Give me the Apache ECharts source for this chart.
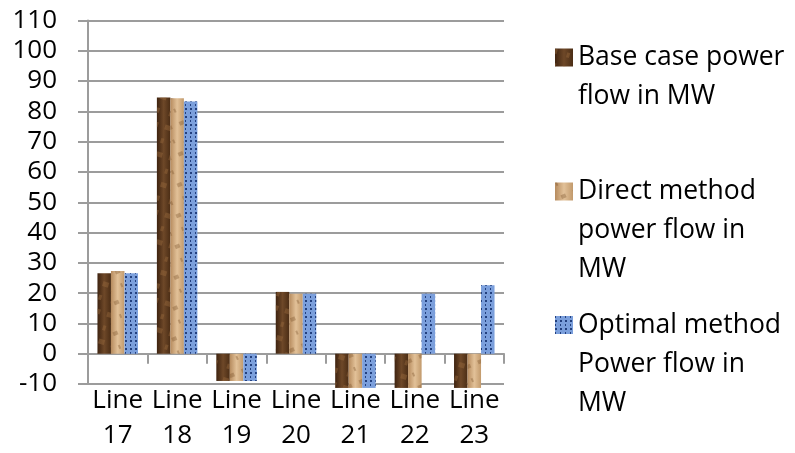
<!DOCTYPE html>
<html>
<head>
<meta charset="utf-8">
<script src="https://cdn.jsdelivr.net/npm/echarts@6/dist/echarts.min.js"></script>
<style>
  html, body { margin: 0; padding: 0; background: #fff; }
  #chart { width: 795px; height: 453px; }
</style>
</head>
<body>
<div id="chart"></div>
<script>
var categories = ['Line\n17', 'Line\n18', 'Line\n19', 'Line\n20', 'Line\n21', 'Line\n22', 'Line\n23'];
var baseCase = [26.6, 84.6, -9, 20.4, -11.3, -11.3, -11.3];
var directMethod = [27.3, 84.3, -9, 19.8, -11.3, -11.3, -11.3];
var optimalMethod = [26.6, 83.3, -9, 19.8, -11.3, 19.8, 22.6];
var seriesNames = ['Base case power\nflow in MW', 'Direct method\npower flow in\nMW', 'Optimal method\nPower flow in\nMW'];

var font = 'Open Sans';
var gray = '#9c9c9c';

var chart = echarts.init(document.getElementById('chart'));

// one legend per item; blank lines on top keep the icon on the first text line
function legendFor(name, top) {
  var lines = name.split('\n').length;
  var pad = '';
  for (var i = 1; i < lines; i++) pad += ' \n';
  return {
    data: [name],
    orient: 'vertical',
    left: 555,
    top: top,
    padding: 0,
    icon: 'rect',
    itemWidth: 18,
    itemHeight: 18,
    itemGap: 0,
    formatter: function (n) { return pad + n; },
    textStyle: {
      fontFamily: font,
      fontSize: 26.5,
      color: '#000',
      lineHeight: 39
    },
    selectedMode: false
  };
}

chart.setOption({
  animation: false,
  grid: { left: 88, right: 291, top: 20.5, bottom: 63.5 },
  legend: [
    legendFor(seriesNames[0], -1),
    legendFor(seriesNames[1], 94),
    legendFor(seriesNames[2], 227.5)
  ],
  xAxis: [
    {
      type: 'category',
      data: categories,
      position: 'bottom',
      axisLine: { onZero: true, lineStyle: { color: gray, width: 2 } },
      axisTick: { show: true, length: 10, lineStyle: { color: gray, width: 2 } },
      axisLabel: { show: false }
    },
    {
      type: 'category',
      data: categories,
      position: 'bottom',
      axisLine: { show: false, onZero: false },
      axisTick: { show: false },
      axisLabel: {
        show: true,
        interval: 0,
        margin: -1,
        fontFamily: font,
        fontSize: 26,
        lineHeight: 35,
        color: '#000'
      }
    }
  ],
  yAxis: {
    type: 'value',
    min: -10,
    max: 110,
    interval: 10,
    axisLine: { show: true, lineStyle: { color: gray, width: 2 } },
    axisTick: { show: true, length: 10, lineStyle: { color: gray, width: 2 } },
    axisLabel: { margin: 31, fontFamily: font, fontSize: 26, color: '#000' },
    splitLine: { lineStyle: { color: gray, width: 2 } }
  },
  series: [
    {
      name: seriesNames[0],
      type: 'bar',
      data: baseCase,
      barWidth: 13.5,
      barGap: '0%',
      clip: false,
      itemStyle: {
        color: new echarts.graphic.LinearGradient(0, 0, 1, 0, [
          { offset: 0, color: '#3e2310' },
          { offset: 0.5, color: '#6e4828' },
          { offset: 1, color: '#4b2d15' }
        ]),
        decal: {
          symbol: 'rect',
          symbolSize: 1,
          color: 'rgba(150,105,60,0.45)',
          dashArrayX: [[6, 7], [3, 10]],
          dashArrayY: [5, 9],
          rotation: 0.3
        }
      }
    },
    {
      name: seriesNames[1],
      type: 'bar',
      data: directMethod,
      barWidth: 13.5,
      barGap: '0%',
      clip: false,
      itemStyle: {
        color: new echarts.graphic.LinearGradient(0, 0, 1, 0, [
          { offset: 0, color: '#b68b5e' },
          { offset: 0.5, color: '#e2c198' },
          { offset: 1, color: '#c29a6c' }
        ]),
        decal: {
          symbol: 'rect',
          symbolSize: 1,
          color: 'rgba(120,80,40,0.35)',
          dashArrayX: [[5, 8], [2, 11]],
          dashArrayY: [4, 10],
          rotation: -0.4
        }
      }
    },
    {
      name: seriesNames[2],
      type: 'bar',
      data: optimalMethod,
      barWidth: 13.5,
      barGap: '0%',
      clip: false,
      itemStyle: {
        color: '#7b9fdc',
        decal: {
          symbol: 'rect',
          symbolSize: 1,
          color: '#23407e',
          dashArrayX: [[2, 3], [1, 4]],
          dashArrayY: [2, 2]
        }
      }
    }
  ]
});
</script>
</body>
</html>
